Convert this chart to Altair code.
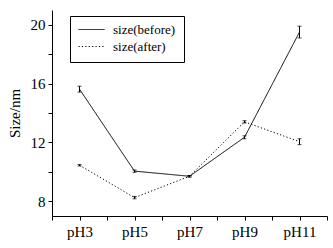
import altair as alt
import pandas as pd

categories = ["pH3", "pH5", "pH7", "pH9", "pH11"]
before_vals = [15.62, 10.05, 9.7, 12.35, 19.5]
before_err = [0.2, 0.08, 0.05, 0.1, 0.4]
after_vals = [10.45, 8.25, 9.7, 13.4, 12.05]
after_err = [0.05, 0.08, 0.05, 0.08, 0.2]
series_names = ["size(before)", "size(after)"]

rows = []
for name, vals, errs in [(series_names[0], before_vals, before_err),
                         (series_names[1], after_vals, after_err)]:
    for i, (c, v, e) in enumerate(zip(categories, vals, errs)):
        rows.append({"series": name, "cat": c, "idx": i + 1, "value": v,
                     "lo": v - e, "hi": v + e})
df = pd.DataFrame(rows)

FONT = "'Liberation Serif', 'Times New Roman', Times, serif"
label_expr = "''"
for i in range(len(categories), 0, -1):
    label_expr = "(datum.value == %d) ? '%s' : (%s)" % (i, categories[i - 1], label_expr)
xticks = [0.5 + 0.5 * k for k in range(2 * len(categories) + 1)]

x_axis = alt.Axis(title=None, values=xticks, grid=False, domainColor="black", tickColor="black",
                  tickSize=4, labelFont=FONT, labelFontSize=15, labelColor="black",
                  labelPadding=4, labelOverlap=False, labelExpr=label_expr)
x_scale = alt.Scale(domain=[0.5, len(categories) + 0.5], nice=False, zero=False)
y_scale = alt.Scale(domain=[7, 21], nice=False, zero=False)
y_axis = alt.Axis(title="Size/nm", values=[8, 10, 12, 14, 16, 18, 20], grid=False,
                  domainColor="black", tickColor="black", tickSize=4,
                  labelFont=FONT, labelFontSize=15, labelColor="black", labelOverlap=False,
                  labelPadding=3,
                  labelExpr="(datum.value % 4 == 0) ? datum.label : ''",
                  titleFont=FONT, titleFontSize=15, titleFontWeight="normal",
                  titleColor="black", titlePadding=8)

lines = alt.Chart(df).mark_line(color="black", strokeWidth=1).encode(
    x=alt.X("idx:Q", scale=x_scale, axis=x_axis),
    y=alt.Y("value:Q", scale=y_scale, axis=y_axis),
    strokeDash=alt.StrokeDash("series:N", sort=series_names,
                              scale=alt.Scale(domain=series_names, range=[[1, 0], [1.2, 2.2]]),
                              legend=alt.Legend(title=None, orient="none", legendX=18, legendY=6,
                                                strokeColor="black", padding=8, symbolType="stroke",
                                                symbolSize=676, symbolStrokeWidth=1,
                                                symbolStrokeColor="black", clipHeight=11,
                                                labelFont=FONT, labelFontSize=13, labelColor="black",
                                                rowPadding=3, labelOffset=8)),
    order="idx:Q",
)

err = alt.Chart(df).mark_errorbar(ticks=alt.MarkConfig(size=4, color="black"), color="black",
                                  thickness=1).encode(
    x=alt.X("idx:Q", scale=x_scale, axis=x_axis),
    y=alt.Y("lo:Q", scale=y_scale, axis=y_axis),
    y2="hi:Q",
)

chart = alt.layer(lines, err).properties(
    width=275, height=206,
    padding={"left": 52, "top": 10, "right": 6, "bottom": 32},
    autosize=alt.AutoSizeParams(type="none"),
    background="white",
).configure_view(stroke=None)

chart.save("out.html", embed_options={"renderer": "svg", "actions": False})
